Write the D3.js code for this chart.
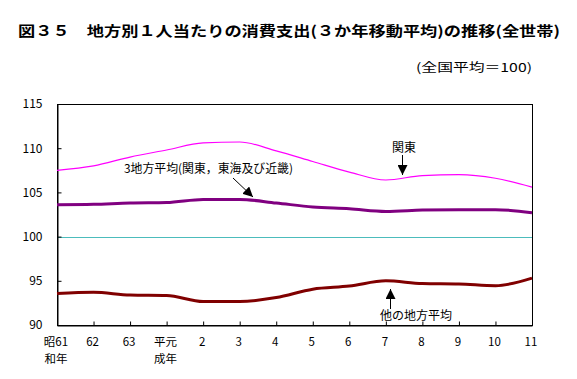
<!DOCTYPE html>
<html><head><meta charset="utf-8">
<script src="https://cdn.jsdelivr.net/npm/d3@7"></script>
<style>body{margin:0;background:#fff}svg{display:block}text{font-family:"Noto Sans CJK JP","Liberation Sans",sans-serif}</style>
</head><body><svg id="c" width="577" height="379"></svg>
<script>
const categories  = ["昭61","62","63","平元","2","3","4","5","6","7","8","9","10","11"];
const categories2 = ["和年","","","成年","","","","","","","","","",""];
const kanto       = [107.5,108.0,109.0,109.8,110.6,110.7,109.7,108.5,107.3,106.4,106.9,107.0,106.6,105.6];
const threeRegion = [103.6,103.65,103.8,103.85,104.2,104.2,103.8,103.35,103.15,102.85,103.0,103.05,103.05,102.7];
const otherRegion = [93.55,93.7,93.4,93.35,92.65,92.65,93.1,94.05,94.4,95.0,94.7,94.65,94.45,95.3];
const yTicks = [90,95,100,105,110,115];
const baseLine = 100;

const svg = d3.select("#c");
const L = 57, R = 532, T = 104, B = 325;
const x = d3.scalePoint().domain(d3.range(categories.length)).range([L, R]);
const y = d3.scaleLinear().domain([90,115]).range([B, T]);

// title
svg.append("text").attr("x",18).attr("y",36).attr("font-size",14).attr("font-weight","bold")
  .attr("textLength",542).attr("lengthAdjust","spacingAndGlyphs")
  .text("図３５　地方別１人当たりの消費支出(３か年移動平均)の推移(全世帯)");
svg.append("text").attr("x",416).attr("y",72).attr("font-size",12)
  .attr("textLength",116).attr("lengthAdjust","spacingAndGlyphs")
  .text("(全国平均＝100)");

// baseline 100
svg.append("line").attr("x1",L).attr("x2",R).attr("y1",Math.round(y(baseLine))+0.5).attr("y2",Math.round(y(baseLine))+0.5)
  .attr("stroke","#4cbcbc").attr("stroke-width",1);

// axes
const ya = svg.append("g").attr("transform",`translate(${L+0.5},0)`)
  .call(d3.axisLeft(y).tickValues(yTicks).tickSizeInner(-4).tickSizeOuter(0).tickPadding(15));
ya.selectAll("text").attr("font-size",12).attr("fill","#000").attr("font-family","Liberation Sans, sans-serif");
const xa = svg.append("g").attr("transform",`translate(0,${B+0.5})`)
  .call(d3.axisBottom(x).tickSizeInner(-4).tickSizeOuter(0).tickFormat(""));
svg.selectAll(".domain, .tick line").attr("stroke","#000");

const xl = svg.append("g").attr("font-size",11.5).attr("text-anchor","middle");
xl.selectAll("text.l1").data(categories).join("text").attr("class","l1")
  .attr("x",(d,i)=>x(i)-1).attr("y",346).text(d=>d);
xl.selectAll("text.l2").data(categories2.map((d,i)=>({d,i})).filter(o=>o.d)).join("text").attr("class","l2")
  .attr("x",o=>x(o.i)-1).attr("y",363).text(o=>o.d);

// frame
svg.append("rect").attr("x",L+0.5).attr("y",T+0.5).attr("width",R-L).attr("height",B-T)
  .attr("fill","none").attr("stroke","#000").attr("stroke-width",1);

// lines
const line = d3.line().x((d,i)=>x(i)).y(d=>y(d)).curve(d3.curveMonotoneX);
svg.append("path").datum(kanto).attr("d",line).attr("fill","none").attr("stroke","#ff00ff").attr("stroke-width",1.2);
svg.append("path").datum(threeRegion).attr("d",line).attr("fill","none").attr("stroke","#800080").attr("stroke-width",3);
svg.append("path").datum(otherRegion).attr("d",line).attr("fill","none").attr("stroke","#800000").attr("stroke-width",3);

// annotations
const defs = svg.append("defs");
defs.append("marker").attr("id","ah").attr("viewBox","0 0 10 10").attr("refX",10).attr("refY",5)
  .attr("markerWidth",10).attr("markerHeight",10).attr("markerUnits","userSpaceOnUse").attr("orient","auto")
  .append("path").attr("d","M0,0L10,5L0,10Z").attr("fill","#000");
function arrow(x1,y1,x2,y2){
  svg.append("line").attr("x1",x1).attr("y1",y1).attr("x2",x2).attr("y2",y2)
    .attr("stroke","#000").attr("stroke-width",1).attr("marker-end","url(#ah)");
}
svg.append("text").attr("x",124).attr("y",173).attr("font-size",12)
  .attr("textLength",169).attr("lengthAdjust","spacingAndGlyphs").text("3地方平均(関東，東海及び近畿)");
arrow(233,178,253,197);
svg.append("text").attr("x",392).attr("y",152).attr("font-size",12).text("関東");
arrow(402.5,155,402.5,175);
svg.append("text").attr("x",380).attr("y",320).attr("font-size",12).text("他の地方平均");
arrow(390.5,309,390.5,289);
</script></body></html>
